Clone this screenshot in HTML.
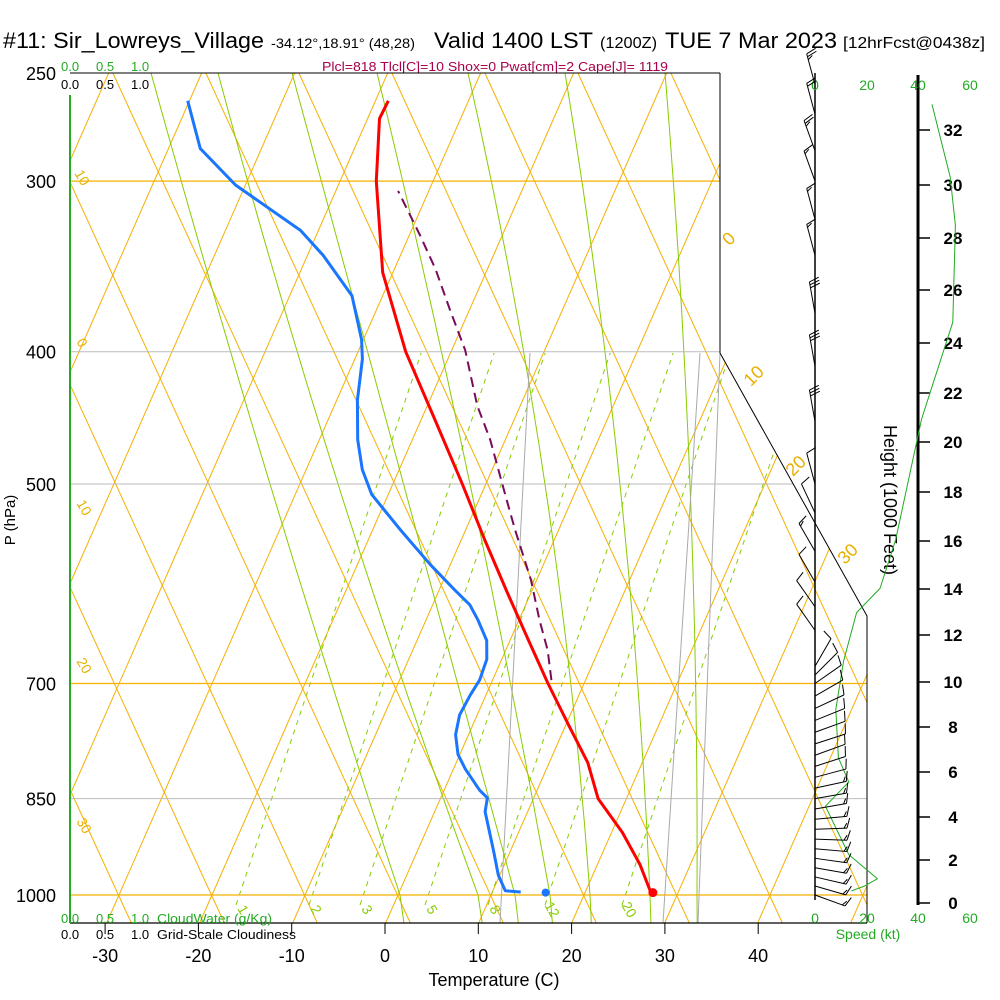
<!DOCTYPE html>
<html><head><meta charset="utf-8">
<style>
html,body{margin:0;padding:0;background:#fff;}
svg{display:block;font-family:"Liberation Sans",sans-serif;}
</style></head>
<body>
<svg id="chart" width="1000" height="1000" viewBox="0 0 1000 1000" xmlns="http://www.w3.org/2000/svg">
<defs>
<clipPath id="plotclip"><polygon points="70,73 720,73 720,353 867,616 867,923 70,923"/></clipPath>
</defs>
<g>
<text x="3" y="48" font-size="22" textLength="261" lengthAdjust="spacingAndGlyphs">#11: Sir_Lowreys_Village</text>
<text x="271" y="48" font-size="14" textLength="144" lengthAdjust="spacingAndGlyphs">-34.12°,18.91° (48,28)</text>
<text x="434" y="48" font-size="22" textLength="159" lengthAdjust="spacingAndGlyphs">Valid 1400 LST</text>
<text x="600" y="48" font-size="16" textLength="57" lengthAdjust="spacingAndGlyphs">(1200Z)</text>
<text x="665" y="48" font-size="22" textLength="172" lengthAdjust="spacingAndGlyphs">TUE 7 Mar 2023</text>
<text x="843" y="48" font-size="16" textLength="142" lengthAdjust="spacingAndGlyphs">[12hrFcst@0438z]</text>
</g>
<text x="322" y="71" font-size="13" fill="#a8004a" textLength="346" lengthAdjust="spacingAndGlyphs">Plcl=818 Tlcl[C]=10 Shox=0 Pwat[cm]=2 Cape[J]= 1119</text>
<g font-size="13">
<text x="61" y="71" fill="#22aa22">0.0</text><text x="96" y="71" fill="#22aa22">0.5</text><text x="131" y="71" fill="#22aa22">1.0</text>
<text x="61" y="89">0.0</text><text x="96" y="89">0.5</text><text x="131" y="89">1.0</text>
</g>
<g id="bg" clip-path="url(#plotclip)"></g>
<g id="frame">
<polyline points="720,73 720,353 867,616 867,923" fill="none" stroke="#000" stroke-width="1"/>
<line x1="70" y1="923" x2="867" y2="923" stroke="#000" stroke-width="1.2"/>
<line x1="70" y1="95" x2="70" y2="923" stroke="#22aa22" stroke-width="2"/>
<line x1="815" y1="73" x2="815" y2="900" stroke="#000" stroke-width="1.5"/>
<line x1="918" y1="75" x2="918" y2="905" stroke="#000" stroke-width="3"/>
</g>
<g id="labels">
<text x="15" y="520" font-size="15" transform="rotate(-90 15 520)" text-anchor="middle">P (hPa)</text>
<text x="494" y="986" font-size="18" text-anchor="middle">Temperature (C)</text>
<text x="884" y="500" font-size="18" transform="rotate(90 884 500)" text-anchor="middle">Height (1000 Feet)</text>
<g font-size="13">
<text x="61" y="923" fill="#22aa22">0.0</text><text x="96" y="923" fill="#22aa22">0.5</text><text x="131" y="923" fill="#22aa22">1.0</text>
<text x="157" y="923" fill="#22aa22" textLength="115" lengthAdjust="spacingAndGlyphs">CloudWater (g/Kg)</text>
<text x="61" y="939">0.0</text><text x="96" y="939">0.5</text><text x="131" y="939">1.0</text>
<text x="157" y="939" textLength="139" lengthAdjust="spacingAndGlyphs">Grid-Scale Cloudiness</text>
</g>
<g font-size="14" fill="#22aa22" text-anchor="middle">
<text x="815" y="90">0</text><text x="867" y="90">20</text><text x="918" y="90">40</text><text x="970" y="90">60</text>
<text x="815" y="923">0</text><text x="867" y="923">20</text><text x="918" y="923">40</text><text x="970" y="923">60</text>
<text x="868" y="939">Speed (kt)</text>
</g>
<g font-size="18" fill="#e8b000" text-anchor="middle">
<text transform="translate(733,243) rotate(-45)">0</text>
<text transform="translate(758,380) rotate(-45)">10</text>
<text transform="translate(800,470) rotate(-45)">20</text>
<text transform="translate(852,558) rotate(-45)">30</text>
</g>
<g font-size="14" fill="#e8b000" text-anchor="middle">
<text transform="translate(78,180) rotate(60)">10</text>
<text transform="translate(78,345) rotate(60)">0</text>
<text transform="translate(80,510) rotate(60)">10</text>
<text transform="translate(80,668) rotate(60)">20</text>
<text transform="translate(80,828) rotate(60)">30</text>
</g>
<g font-size="14" fill="#88cc00" text-anchor="middle">
<text transform="translate(239,912) rotate(60)">1</text>
<text transform="translate(312,912) rotate(60)">2</text>
<text transform="translate(363,912) rotate(60)">3</text>
<text transform="translate(428,912) rotate(60)">5</text>
<text transform="translate(491,912) rotate(60)">8</text>
<text transform="translate(548,912) rotate(60)">12</text>
<text transform="translate(625,912) rotate(60)">20</text>
</g>
</g>
<g id="ticks"></g>
<g id="series"></g>
<g id="winds"></g>
</svg>
<script>
// ---- data ----
const pLabels = [250, 300, 400, 500, 700, 850, 1000];
const tempTicks = [-30, -20, -10, 0, 10, 20, 30, 40];
const heightTicks = [0, 2, 4, 6, 8, 10, 12, 14, 16, 18, 20, 22, 24, 26, 28, 30, 32];
const heightTickY = [903, 860, 817, 772, 727, 682, 635, 589, 541, 492, 442, 393, 343, 290, 238, 185, 130];
const tempP = [1000, 950, 900, 850, 800, 750, 700, 650, 600, 550, 500, 450, 400, 350, 300, 270, 262];
const tempT = [28.6, 25.9, 22.5, 18.3, 15.5, 11.6, 7.5, 3.3, -1.2, -6.0, -11.1, -16.9, -23.4, -29.6, -34.6, -37.2, -37.1];
const dewP = [995, 993, 967, 927, 869, 849, 838, 809, 789, 763, 738, 714, 696, 672, 651, 629, 613, 598, 573, 540, 509, 488, 464, 434, 405, 392, 364, 340, 326, 302, 284, 262];
const dewT = [14.4, 12.7, 11.2, 9.5, 6.8, 6.4, 5.2, 2.7, 1.2, 0.0, -0.5, -0.3, 0.0, -0.2, -1.1, -3.0, -4.6, -6.9, -10.7, -15.6, -20.3, -22.5, -24.4, -26.3, -27.7, -28.7, -31.8, -36.8, -40.4, -49.5, -55.0, -58.6];
const parcelP = [696, 662, 629, 588, 540, 509, 464, 438, 399, 373, 348, 329, 305];
const parcelT = [7.7, 5.9, 3.6, 0.8, -3.3, -6.0, -10.2, -13.2, -17.1, -20.6, -24.1, -27.3, -31.8];
const sfcT = 28.6, sfcTd = 17.1, sfcP = 996;
const windP = [255, 268, 285, 300, 320, 340, 375, 410, 450, 500, 525, 560, 590, 615, 640, 680, 690, 700, 715, 730, 745, 760, 775, 790, 805, 820, 835, 850, 865, 880, 895, 910, 925, 940, 955, 970, 985, 1000];
const windDir = [-15, -15, -20, -20, -15, -15, -10, -10, -10, -15, -25, -30, -30, -35, -35, 30, 45, 55, 60, 65, 68, 70, 72, 70, 72, 75, 78, 80, 80, 85, 88, 92, 95, 98, 100, 103, 106, 110];
const windSpd = [25, 20, 25, 15, 15, 15, 30, 30, 30, 10, 10, 15, 10, 10, 10, 10, 10, 10, 10, 10, 10, 10, 10, 10, 10, 10, 15, 15, 15, 15, 15, 15, 15, 15, 15, 15, 15, 15];
const cloudHt = [33, 30, 28, 24, 20, 15, 13, 12, 10, 8, 6, 5, 4, 2, 1, 0.7, 0.5];
const cloudVal = [45, 52, 54, 53, 41, 31, 25, 16, 11, 8, 9, 13, 4, 13, 24, 19, 14];

// ---- axes ----
const NS = "http://www.w3.org/2000/svg";
function yP(p) { return 73 + 822 * Math.log(p / 250) / Math.log(4); }
function xT(t, p) { return 385 + 9.33 * t + 0.44 * (895 - yP(p)); }
function xTemp(t) { return 385 + 9.33 * t; }
function hY(h) { return 903 - h * 24.2; }
function spdX(s) { return 815 + s * 2.6; }
function mk(tag, attrs, parent) {
  const e = document.createElementNS(NS, tag);
  for (const k in attrs) e.setAttribute(k, attrs[k]);
  parent.appendChild(e);
  return e;
}
const bg = document.getElementById('bg');
const ticks = document.getElementById('ticks');
const series = document.getElementById('series');
const winds = document.getElementById('winds');

for (let k = -12; k <= 14; k++) {
  const x0 = 398 + 93 * k;
  let l = mk('line', {x1: x0 - 0.44 * 28, y1: 923, x2: x0 + 0.44 * 822, y2: 73, stroke: '#f5b000', 'stroke-width': 1}, bg);
  
  
  let a = mk('line', {x1: x0 + 0.44 * 28, y1: 923, x2: x0 - 0.46 * 822, y2: 73, stroke: '#f5b000', 'stroke-width': 1}, bg);
  
  
}
const moist = [[151, 270, 400], [218, 338, 478], [292, 403, 515], [377, 470, 550], [468, 545, 590], [565, 620, 650], [665, 690, 697]];
moist.forEach(m => {
  const pth = mk('path', {d: `M${m[0]},73 Q${2 * m[1] - (m[0] + m[2]) / 2},484 ${m[2]},895 L${m[2] + (m[2] - m[1]) * 0.03},923`, fill: 'none', stroke: '#88cc00', 'stroke-width': 1}, bg);
  
  
});
[239, 312, 363, 428, 491, 548, 625].forEach(x0 => {
  const l = mk('line', {x1: x0 - 3, y1: 905, x2: x0 + 0.33 * 552, y2: 353, stroke: '#88cc00', 'stroke-width': 1, 'stroke-dasharray': '5,5'}, bg);
  
  
});
[[530, 353, 500, 923], [700, 353, 663, 923], [720, 353, 698, 923]].forEach(g => {
  const l = mk('line', {x1: g[0], y1: g[1], x2: g[2], y2: g[3], stroke: '#aaaaaa', 'stroke-width': 1}, bg);
  
  
});
pLabels.forEach(p => {
  const orange = (p === 300 || p === 700 || p === 1000);
  const x2 = p <= 400 ? 720 : 867;
  const l = mk('line', {x1: 70, y1: yP(p), x2: x2, y2: yP(p), stroke: orange ? '#f5b000' : '#bbbbbb', 'stroke-width': orange ? 1.3 : 1}, bg);
  
  
  const t = mk('text', {x: 56, y: yP(p) + 7, 'font-size': 18, 'text-anchor': 'end'}, ticks);
  t.textContent = p;
  
  
});
mk('line', {x1: 70, y1: 73, x2: 720, y2: 73, stroke: '#000', 'stroke-width': 1}, document.getElementById('frame'));
tempTicks.forEach(t => {
  const x = xTemp(t);
  const l = mk('line', {x1: x, y1: 923, x2: x, y2: 934, stroke: '#000', 'stroke-width': 1}, ticks);
  
  
  const tx = mk('text', {x: x, y: 962, 'font-size': 18, 'text-anchor': 'middle'}, ticks);
  tx.textContent = t;
  
  
});
heightTicks.forEach((h, i) => {
  const y = heightTickY[i];
  const l = mk('line', {x1: 918, y1: y, x2: 930, y2: y, stroke: '#000', 'stroke-width': 1.5}, ticks);
  
  
  const tx = mk('text', {x: 953, y: y + 6, 'font-size': 17, 'font-weight': 'bold', 'text-anchor': 'middle'}, ticks);
  tx.textContent = h;
  
  
});
function poly(P, T, color, w, dash, name) {
  const pts = P.map((p, i) => xT(T[i], p).toFixed(1) + ',' + yP(p).toFixed(1)).join(' ');
  const e = mk('polyline', {points: pts, fill: 'none', stroke: color, 'stroke-width': w, 'stroke-linejoin': 'round'}, series);
  if (dash) e.setAttribute('stroke-dasharray', dash);
  
  
}
poly(parcelP, parcelT, '#7a0a5a', 2, '10,6', 'parcel-path');
poly(dewP, dewT, '#1a75ff', 3, null, 'dewpoint-line');
poly(tempP, tempT, '#ff0000', 3, null, 'temperature-line');
const c1 = mk('circle', {cx: xT(sfcT, sfcP), cy: yP(sfcP), r: 4.5, fill: '#ff0000'}, series);


const c2 = mk('circle', {cx: xT(sfcTd, sfcP), cy: yP(sfcP), r: 4, fill: '#1a75ff'}, series);


const cpts = cloudHt.map((h, i) => spdX(cloudVal[i]).toFixed(1) + ',' + hY(h).toFixed(1)).join(' ');
const cl = mk('polyline', {points: cpts, fill: 'none', stroke: '#22aa22', 'stroke-width': 1, 'stroke-linejoin': 'round'}, series);


windP.forEach((p, i) => {
  const y = yP(p);
  const a = windDir[i] * Math.PI / 180;
  const L = 32;
  const dx = Math.sin(a), dy = -Math.cos(a);
  const x1 = 815, y1 = y;
  const x2 = x1 + dx * L, y2 = y1 + dy * L;
  const g = mk('g', {}, winds);
  
  
  mk('line', {x1: x1, y1: y1, x2: x2, y2: y2, stroke: '#000', 'stroke-width': 1}, g);
  let s = windSpd[i], pos = 0;
  const side = windDir[i] < 0 ? -1 : 1;
  const nx = dy * side, ny = -dx * side;
  while (s >= 5) {
    const bx = x2 - dx * pos, by = y2 - dy * pos;
    const len = s >= 10 ? 10 : 5;
    mk('line', {x1: bx, y1: by, x2: bx + nx * len + dx * 3, y2: by + ny * len + dy * 3, stroke: '#000', 'stroke-width': 1}, g);
    s -= len;
    pos += 3;
  }
});
</script>
</body></html>
